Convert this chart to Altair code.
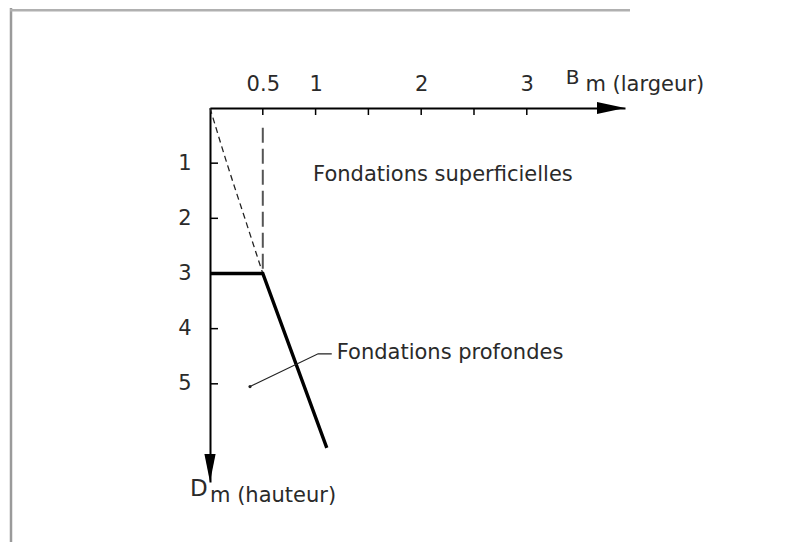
import altair as alt
import pandas as pd

# ---- axes (B = largeur, D = hauteur/profondeur), in metres ----
x_ticks = [0.5, 1, 1.5, 2, 2.5, 3]
x_labels = [0.5, 1, 2, 3]
y_ticks = [1, 2, 3, 4, 5]
x_max = 3.93
y_max = 6.78

# ---- boundary lines ----
curve_b = [0, 0.16, 0.33, 0.5]
curve_d = [0, 1, 2, 3]
vert_b = [0.5, 0.5]
vert_d = [0.36, 3]
thick_b = [0, 0.5, 1.106]
thick_d = [3, 3, 6.16]
leader_b = [1.153, 1.024, 0.379]
leader_d = [4.457, 4.457, 5.05]

# ---- annotations (anchor in data units) ----
ann_text = ["Fondations superficielles", "Fondations profondes"]
ann_b = [0.976, 1.20]
ann_d = [1.22, 4.45]

FONT = "DejaVu Sans"
TXT = "#2a2a2a"

xscale = alt.Scale(domain=[0, x_max], nice=False, zero=False)
yscale = alt.Scale(domain=[0, y_max], nice=False, zero=False, reverse=True)
xaxis = alt.Axis(orient="top", values=x_labels, ticks=False, grid=False,
                 domainColor="black", domainWidth=2, labelFontSize=21,
                 labelPadding=14, title=None, labelFont=FONT, labelColor=TXT,
                 labelAngle=0, labelFlush=False, labelOverlap=False, format="~g")
yaxis = alt.Axis(orient="left", values=y_ticks, ticks=False, grid=False,
                 domainColor="black", domainWidth=2, labelFontSize=21,
                 labelPadding=19, title=None, labelFont=FONT, labelColor=TXT,
                 labelOverlap=False, format="d")


def X(f="b"):
    return alt.X(f"{f}:Q", scale=xscale, axis=xaxis)


def Y(f="d"):
    return alt.Y(f"{f}:Q", scale=yscale, axis=yaxis)


def line_df(bs, ds):
    return pd.DataFrame({"b": bs, "d": ds, "o": list(range(len(bs)))})


layers = []

# inward tick marks
layers.append(
    alt.Chart(pd.DataFrame({"b": x_ticks})).mark_rule(color="black", strokeWidth=1.5)
    .encode(x=X(), y=alt.value(0), y2=alt.value(7))
)
layers.append(
    alt.Chart(pd.DataFrame({"d": y_ticks})).mark_rule(color="black", strokeWidth=1.5)
    .encode(y=Y(), x=alt.value(0), x2=alt.value(8))
)

# dashed curve
layers.append(
    alt.Chart(line_df(curve_b, curve_d)).mark_line(color="#222", strokeWidth=1.3,
                                                    strokeDash=[6, 4], interpolate="monotone")
    .encode(x=X(), y=Y(), order="o:Q")
)
# dashed vertical
layers.append(
    alt.Chart(line_df(vert_b, vert_d)).mark_line(color="#555", strokeWidth=2,
                                                  strokeDash=[15, 6])
    .encode(x=X(), y=Y(), order="o:Q")
)
# thick limit line
layers.append(
    alt.Chart(line_df(thick_b, thick_d)).mark_line(color="black", strokeWidth=3.4)
    .encode(x=X(), y=Y(), order="o:Q")
)
# leader line
layers.append(
    alt.Chart(line_df(leader_b, leader_d)).mark_line(color="#222", strokeWidth=1.1)
    .encode(x=X(), y=Y(), order="o:Q")
)
layers.append(
    alt.Chart(pd.DataFrame({"b": [leader_b[-1]], "d": [leader_d[-1]]}))
    .mark_point(filled=True, color="#222", size=10, opacity=1)
    .encode(x=X(), y=Y())
)

# arrow heads
layers.append(
    alt.Chart(pd.DataFrame({"b": [x_max], "d": [0]}))
    .mark_point(shape="M -2 -0.43 L 0 0 L -2 0.43 Z", filled=True, color="black",
                size=784, opacity=1, strokeWidth=0)
    .encode(x=X(), y=Y())
)
layers.append(
    alt.Chart(pd.DataFrame({"b": [0], "d": [y_max]}))
    .mark_point(shape="M -0.4 -2 L 0 0 L 0.4 -2 Z", filled=True, color="black",
                size=784, opacity=1, strokeWidth=0)
    .encode(x=X(), y=Y())
)

# annotations
layers.append(
    alt.Chart(pd.DataFrame({"t": ann_text, "b": ann_b, "d": ann_d}))
    .mark_text(align="left", baseline="middle", font=FONT, fontSize=21, color=TXT)
    .encode(x=X(), y=Y(), text="t:N")
)


def label(txt, b, d, size):
    return (alt.Chart(pd.DataFrame({"t": [txt], "b": [b], "d": [d]}))
            .mark_text(align="left", baseline="middle", font=FONT, fontSize=size, color=TXT)
            .encode(x=X(), y=Y(), text="t:N"))


layers.append(label("B", 3.37, -0.55, 20))
layers.append(label("m (largeur)", 3.555, -0.41, 21))
layers.append(label("D", -0.19, 6.91, 23))
layers.append(label("m (hauteur)", 0.0, 7.04, 21))

# frame of the original figure (left and top edges)
layers.append(
    alt.Chart(pd.DataFrame({"d": [0]})).mark_rule(color="#9a9a9a", strokeWidth=2.5)
    .encode(x=alt.value(-199), y=alt.value(-100), y2=alt.value(434))
)
layers.append(
    alt.Chart(pd.DataFrame({"d": [0]})).mark_rect(color="#b0b0b0", opacity=1)
    .encode(x=alt.value(-200), x2=alt.value(420), y=alt.value(-99), y2=alt.value(-96.5))
)

chart = (
    alt.layer(*layers)
    .properties(width=415, height=374, autosize=alt.AutoSizeParams(type="none"),
                padding={"left": 202, "top": 100, "right": 158, "bottom": 60},
                background="white")
    .configure_view(stroke=None)
)

chart.save("out.html", embed_options={"renderer": "svg", "actions": False})
